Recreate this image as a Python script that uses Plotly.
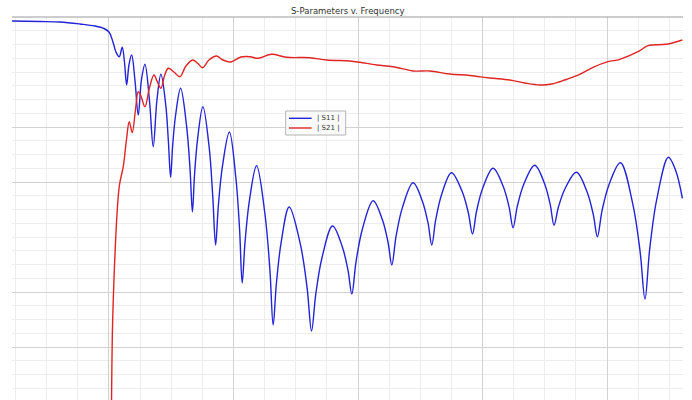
import plotly.graph_objects as go

# Frequency axis (arbitrary GHz-like units), magnitude in dB
s11_freq = [0.2215, 0.4462, 0.6067, 0.7673, 0.8876, 0.9599, 1.0, 1.0321, 1.0562,
            1.0827, 1.1067, 1.1244, 1.1421, 1.1605, 1.1822, 1.2087, 1.2352, 1.2608,
            1.2889, 1.3250, 1.3555, 1.3852, 1.4173, 1.4563, 1.4772, 1.4952, 1.5112,
            1.5353, 1.5754, 1.6228, 1.6509, 1.6701, 1.6870, 1.7123, 1.7544, 1.8054,
            1.8335, 1.8563, 1.8785, 1.9117, 1.9671, 2.0185, 2.0493, 2.0698, 2.0929,
            2.1276, 2.1854, 2.2520, 2.2920, 2.3186, 2.3443, 2.3828, 2.4470, 2.5369,
            2.5909, 2.6268, 2.6605, 2.7111, 2.7953, 2.8728, 2.9193, 2.9502, 2.9844,
            3.0357, 3.1212, 3.1963, 3.2413, 3.2713, 3.3055, 3.3568, 3.4422, 3.5173,
            3.5623, 3.5923, 3.6239, 3.6713, 3.7504, 3.8347, 3.8852, 3.9189, 3.9520,
            4.0016, 4.0843, 4.1645, 4.2127, 4.2448, 4.2796, 4.3319, 4.4190, 4.4964,
            4.5429, 4.5739, 4.6098, 4.6637, 4.7536, 4.8379, 4.8884, 4.9222, 4.9591,
            5.0145, 5.1067, 5.2055, 5.2647, 5.3041, 5.3417, 5.3980, 5.4920, 5.5506,
            5.6044]
s11_db = [-0.364, -0.409, -0.455, -0.636, -0.818, -1.045, -1.364, -2.273, -3.182,
          -3.609, -2.755, -4.091, -6.182, -4.364, -3.455, -5.727, -8.909, -5.727,
          -4.300, -7.545, -11.791, -7.545, -5.209, -8.018, -11.300, -14.573, -11.745,
          -8.909, -6.482, -9.855, -13.791, -17.727, -14.373, -11.027, -8.155, -11.927,
          -16.327, -20.727, -17.136, -13.536, -10.455, -14.573, -19.382, -24.182, -20.445,
          -16.718, -13.518, -17.864, -22.927, -28.0, -24.245, -20.491, -17.273, -20.655,
          -24.6, -28.545, -25.209, -21.864, -19.0, -20.855, -23.018, -25.182, -22.209,
          -19.245, -16.7, -18.455, -20.5, -22.545, -19.927, -17.309, -15.064, -16.764,
          -18.745, -20.727, -18.427, -16.127, -14.155, -15.827, -17.773, -19.727, -17.636,
          -15.545, -13.755, -15.373, -17.264, -19.155, -17.173, -15.182, -13.482, -15.118,
          -17.027, -18.936, -17.255, -15.564, -14.118, -15.873, -17.927, -19.973, -17.618,
          -15.264, -13.245, -16.964, -21.3, -25.636, -21.127, -16.618, -12.755, -13.955,
          -16.482]

s21_freq = [1.0201, 1.0281, 1.0401, 1.0482, 1.0642, 1.0843, 1.1148, 1.1404, 1.1629,
            1.1870, 1.2127, 1.2352, 1.2568, 1.2889, 1.3250, 1.3612, 1.3892, 1.4173,
            1.4454, 1.4759, 1.5217, 1.5698, 1.6180, 1.6717, 1.7103, 1.7520, 1.8026,
            1.8644, 1.9069, 1.9575, 1.9791, 2.0594, 2.1316, 2.1982, 2.3058, 2.4262,
            2.6132, 2.7472, 2.9342, 3.0145, 3.1485, 3.2817, 3.4422, 3.5762, 3.7368,
            3.8973, 4.0578, 4.2183, 4.3387, 4.4591, 4.5554, 4.6597, 4.7801, 4.8868,
            5.0072, 5.1011, 5.2480, 5.3283, 5.4759, 5.6044]
s21_db = [-35.727, -28.455, -23.909, -21.636, -18.0, -15.273, -13.609, -11.182, -9.518,
          -10.518, -8.455, -6.791, -7.182, -8.155, -6.455, -5.273, -5.909, -6.482,
          -5.364, -4.664, -5.0, -5.427, -4.455, -3.909, -4.182, -4.609, -3.909,
          -3.545, -3.864, -4.064, -4.091, -3.636, -3.609, -3.755, -3.391, -3.664,
          -3.7, -3.909, -4.0, -4.118, -4.364, -4.518, -4.909, -4.909, -5.182,
          -5.318, -5.545, -5.727, -6.0, -6.182, -6.091, -5.727, -5.209, -4.573,
          -4.064, -3.845, -3.155, -2.609, -2.482, -2.091]

series_names = ["| S11 |", "| S21 |"]
series_colors = ["#2323d8", "#e02424"]
x_range = [0.2215, 5.6094]
y_range = [-34.818, 0.0]
y_major_grid = [-10, -15, -25, -30]

fig = go.Figure()
fig.add_trace(go.Scatter(x=s11_freq, y=s11_db, mode="lines", name=series_names[0],
                         line=dict(color=series_colors[0], width=1.4, shape="spline", smoothing=1.0)))
fig.add_trace(go.Scatter(x=s21_freq, y=s21_db, mode="lines", name=series_names[1],
                         line=dict(color=series_colors[1], width=1.4, shape="spline", smoothing=1.0)))

fig.update_layout(
    width=692, height=400,
    margin=dict(l=12, r=9, t=17, b=0),
    paper_bgcolor="white", plot_bgcolor="white",
    title=dict(text="S-Parameters v. Frequency", x=0.5025, xanchor="center",
               y=1 - 11 / 400, yanchor="middle",
               font=dict(family="DejaVu Sans", size=8.5, color="#333333")),
    showlegend=False,
    hovermode=False,
)
fig.update_xaxes(range=x_range, showticklabels=False, ticks="", zeroline=False,
                 showgrid=True, gridcolor="#d2d2d2", gridwidth=1, dtick=1, tick0=0,
                 minor=dict(tickmode="linear", tick0=0, dtick=0.25, showgrid=True,
                            gridcolor="#ededed", gridwidth=1),
                 showline=False)
fig.update_yaxes(range=y_range, showticklabels=False, ticks="", zeroline=False,
                 showgrid=True, gridcolor="#d2d2d2", gridwidth=1,
                 tickmode="array", tickvals=y_major_grid,
                 minor=dict(tickmode="linear", tick0=0, dtick=1.25, showgrid=True,
                            gridcolor="#ededed", gridwidth=1),
                 showline=False)
# top border of plot area
fig.add_shape(type="line", xref="paper", yref="paper", x0=0, x1=1, y0=1, y1=1,
              line=dict(color="#9a9a9a", width=1))

# compact legend box (drawn in paper coordinates)
fig.add_shape(type="rect", xref="paper", yref="paper", x0=0.4079, x1=0.4973,
              y0=0.6919, y1=0.7546, line=dict(color="#b4b4b4", width=1),
              fillcolor="rgba(250,250,250,0.95)")
legend_rows = [0.7355, 0.7102]
for name, color, yy in zip(series_names, series_colors, legend_rows):
    fig.add_shape(type="line", xref="paper", yref="paper", x0=0.4128, x1=0.4466,
                  y0=yy, y1=yy, line=dict(color=color, width=1.4))
    fig.add_annotation(text=name, xref="paper", yref="paper", x=0.4516, y=yy,
                       xanchor="left", yanchor="middle", showarrow=False,
                       font=dict(family="DejaVu Sans", size=7, color="#333333"))

fig.write_html("out.html", config={"displayModeBar": False},
               post_script="document.body.style.margin='0';")
